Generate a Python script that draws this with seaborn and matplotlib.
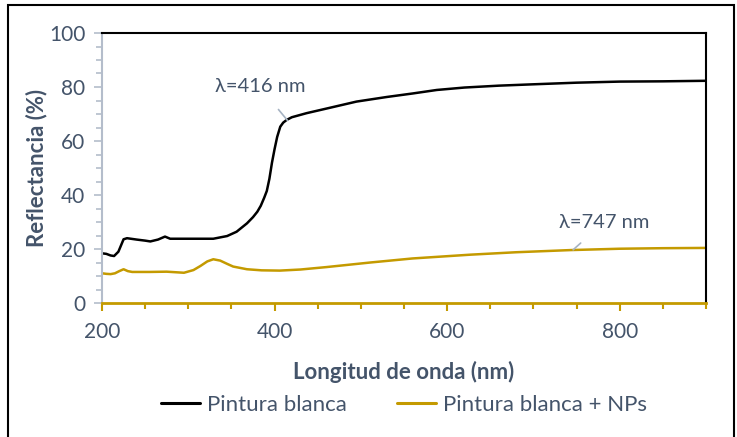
import numpy as np
import pandas as pd
import seaborn as sns
import matplotlib
matplotlib.use('Agg')
import matplotlib.pyplot as plt
from matplotlib.ticker import MultipleLocator
from matplotlib.patches import Rectangle

# Pintura blanca (negro)
wl_blanca = [200, 205, 210, 214, 219, 225, 229, 240, 250, 256, 265, 273, 279, 300, 329,
             345, 356, 368, 375, 380, 384, 388, 391, 394, 397, 400, 403, 406.6, 410, 414,
             420, 437, 460, 495, 530, 560, 588, 620, 660, 700, 750, 800, 850, 900]
r_blanca = [18.4, 18.2, 17.6, 17.4, 19.0, 23.6, 24.0, 23.5, 23.1, 22.8, 23.5, 24.6, 23.8, 23.8, 23.8,
            24.8, 26.4, 29.5, 31.8, 33.8, 36.0, 39.0, 41.5, 46.0, 52.0, 57.0, 61.5, 65.3, 66.8, 67.8,
            68.8, 70.3, 72.0, 74.6, 76.3, 77.6, 78.9, 79.8, 80.5, 81.0, 81.6, 82.0, 82.1, 82.3]

# Pintura blanca + NPs (dorado)
wl_nps = [200, 205, 210, 215, 220, 225, 230, 235, 255, 275, 295, 306, 314, 322, 329,
          337, 345, 352, 360, 368, 385, 406, 430, 460, 511, 560, 627, 680, 743, 800, 850, 900]
r_nps = [11.0, 10.8, 10.7, 11.0, 11.8, 12.5, 11.8, 11.5, 11.5, 11.6, 11.2, 12.2, 13.7, 15.4, 16.2,
         15.7, 14.5, 13.5, 13.0, 12.5, 12.1, 12.0, 12.4, 13.3, 15.0, 16.5, 17.9, 18.8, 19.6, 20.1, 20.3, 20.4]

series = ['Pintura blanca', 'Pintura blanca + NPs']
colores = ['#000000', '#C49A00']
txt = '#44546A'

df = pd.concat([
    pd.DataFrame({'wl': wl_blanca, 'R': r_blanca, 'serie': series[0]}),
    pd.DataFrame({'wl': wl_nps, 'R': r_nps, 'serie': series[1]}),
])

sns.set_style('white')
plt.rcParams['font.family'] = ['Lato', 'DejaVu Sans']

fig = plt.figure(figsize=(7.37, 4.37), dpi=100)
ax = fig.add_axes([102 / 737, 1 - 303 / 437, (706 - 102) / 737, (303 - 33) / 437])

sns.lineplot(data=df, x='wl', y='R', hue='serie', palette=dict(zip(series, colores)),
             linewidth=1.8, sort=True, estimator=None, ax=ax)

ax.set_xlim(200, 900)
ax.set_ylim(0, 100)
ax.xaxis.set_major_locator(MultipleLocator(200))
ax.xaxis.set_minor_locator(MultipleLocator(50))
ax.yaxis.set_major_locator(MultipleLocator(20))
ax.yaxis.set_minor_locator(MultipleLocator(5))

for s in ['top', 'right']:
    ax.spines[s].set_color('black')
    ax.spines[s].set_linewidth(1.5)
ax.spines['left'].set_color('#B4BDCB')
ax.spines['left'].set_linewidth(1.5)
ax.spines['bottom'].set_color(colores[1])
ax.spines['bottom'].set_linewidth(2)

ax.tick_params(axis='x', which='major', direction='out', length=6, width=1.5,
               color=colores[1], labelsize=15, labelcolor=txt, pad=8, bottom=True)
ax.tick_params(axis='x', which='minor', direction='out', length=4, width=1.5,
               color=colores[1], bottom=True)
ax.tick_params(axis='y', which='major', direction='out', length=6, width=1.2,
               color='#B4BDCB', labelsize=15, labelcolor=txt, pad=6, left=True)
ax.tick_params(axis='y', which='minor', direction='out', length=4, width=1.2,
               color='#B4BDCB', left=True)

ax.set_xlabel('Longitud de onda (nm)', fontsize=16, fontweight='bold', color=txt, labelpad=13)
ax.set_ylabel('Reflectancia (%)', fontsize=16, fontweight='bold', color=txt, labelpad=1)

# anotaciones
ax.annotate('λ=416 nm', xy=(415, 67.6), xytext=(383, 80), fontsize=14.5, color=txt,
            ha='center', va='center',
            arrowprops=dict(arrowstyle='-', color='#A6B3C3', lw=1.2, shrinkA=10, shrinkB=0))
ax.annotate('λ=747 nm', xy=(746, 19.7), xytext=(782, 30), fontsize=14.5, color=txt,
            ha='center', va='center',
            arrowprops=dict(arrowstyle='-', color='#A6B3C3', lw=1.2, shrinkA=10, shrinkB=0))

sns.move_legend(ax, 'upper center', bbox_to_anchor=(0.5, -0.265), ncol=2, frameon=False,
                title=None, fontsize=16, handlelength=1.75, columnspacing=2.3, handletextpad=0.3)
for t in ax.get_legend().get_texts():
    t.set_color(txt)
for h in ax.get_legend().legend_handles:
    h.set_linewidth(2.2)

# marco de la figura
fig.patches.append(Rectangle((8 / 737, -0.01), 726 / 737, 1.01 - 5 / 437, transform=fig.transFigure,
                             fill=False, edgecolor='black', linewidth=1.5))

fig.savefig('out.png', dpi=100)
